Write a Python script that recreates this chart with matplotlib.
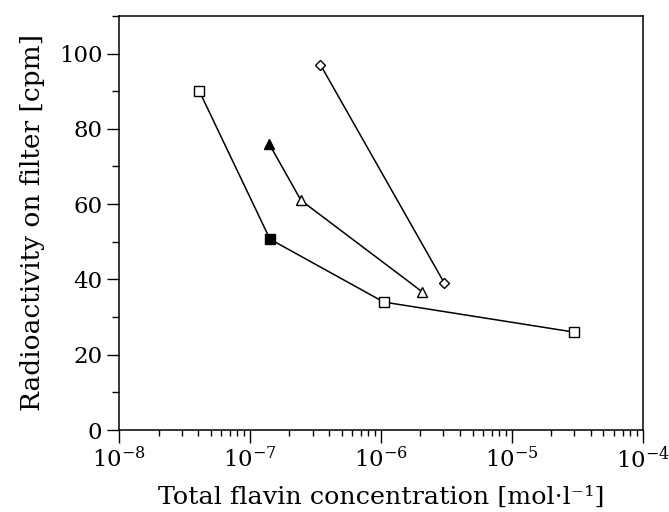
import matplotlib
matplotlib.use("Agg")
import matplotlib.pyplot as plt
from matplotlib.ticker import LogLocator, MultipleLocator, NullFormatter

plt.rcParams['font.family'] = ['DejaVu Serif']
plt.rcParams['mathtext.fontset'] = 'dejavuserif'

# series 1: squares (open / filled)
sq_x = [4.1e-8, 1.42e-7, 1.05e-6, 3.0e-5]
sq_y = [90, 50.7, 34, 26]
sq_filled = [False, True, False, False]

# series 2: triangles (first one filled)
tri_x = [1.4e-7, 2.45e-7, 2.05e-6]
tri_y = [76, 61, 36.8]
tri_filled = [True, False, False]

# series 3: diamonds
dia_x = [3.45e-7, 3.05e-6]
dia_y = [97, 39]

fig = plt.figure(figsize=(6.69, 5.12), dpi=100)
ax = fig.add_axes([0.178, 0.160, 0.783, 0.809])

def draw(xs, ys, marker, filled, ms):
    ax.plot(xs, ys, color='black', lw=1.1, zorder=1)
    for x, y, f in zip(xs, ys, filled):
        ax.plot([x], [y], marker=marker, ms=ms, mew=1.0, mec='black',
                mfc='black' if f else 'white', ls='none', zorder=2)

draw(sq_x, sq_y, 's', sq_filled, 6.5)
draw(tri_x, tri_y, '^', tri_filled, 6.5)
draw(dia_x, dia_y, 'D', [False] * len(dia_x), 5)

ax.set_xscale('log')
ax.set_xlim(1e-8, 1e-4)
ax.set_ylim(0, 110)

ax.xaxis.set_major_locator(LogLocator(base=10, numticks=10))
ax.xaxis.set_minor_locator(LogLocator(base=10, subs=range(2, 10), numticks=20))
ax.xaxis.set_minor_formatter(NullFormatter())
ax.yaxis.set_major_locator(MultipleLocator(20))
ax.yaxis.set_minor_locator(MultipleLocator(10))

ax.tick_params(which='major', direction='out', length=9, width=1.0, labelsize=16.5, pad=3)
ax.tick_params(which='minor', direction='out', length=5, width=1.0)
ax.tick_params(axis='x', which='minor', length=4)
for s in ax.spines.values():
    s.set_linewidth(1.1)

ax.set_xlabel('Total flavin concentration [mol·l⁻¹]', fontsize=18.3, labelpad=9)
ax.set_ylabel('Radioactivity on filter [cpm]', fontsize=19, labelpad=10)

fig.savefig('out.png', dpi=100)
